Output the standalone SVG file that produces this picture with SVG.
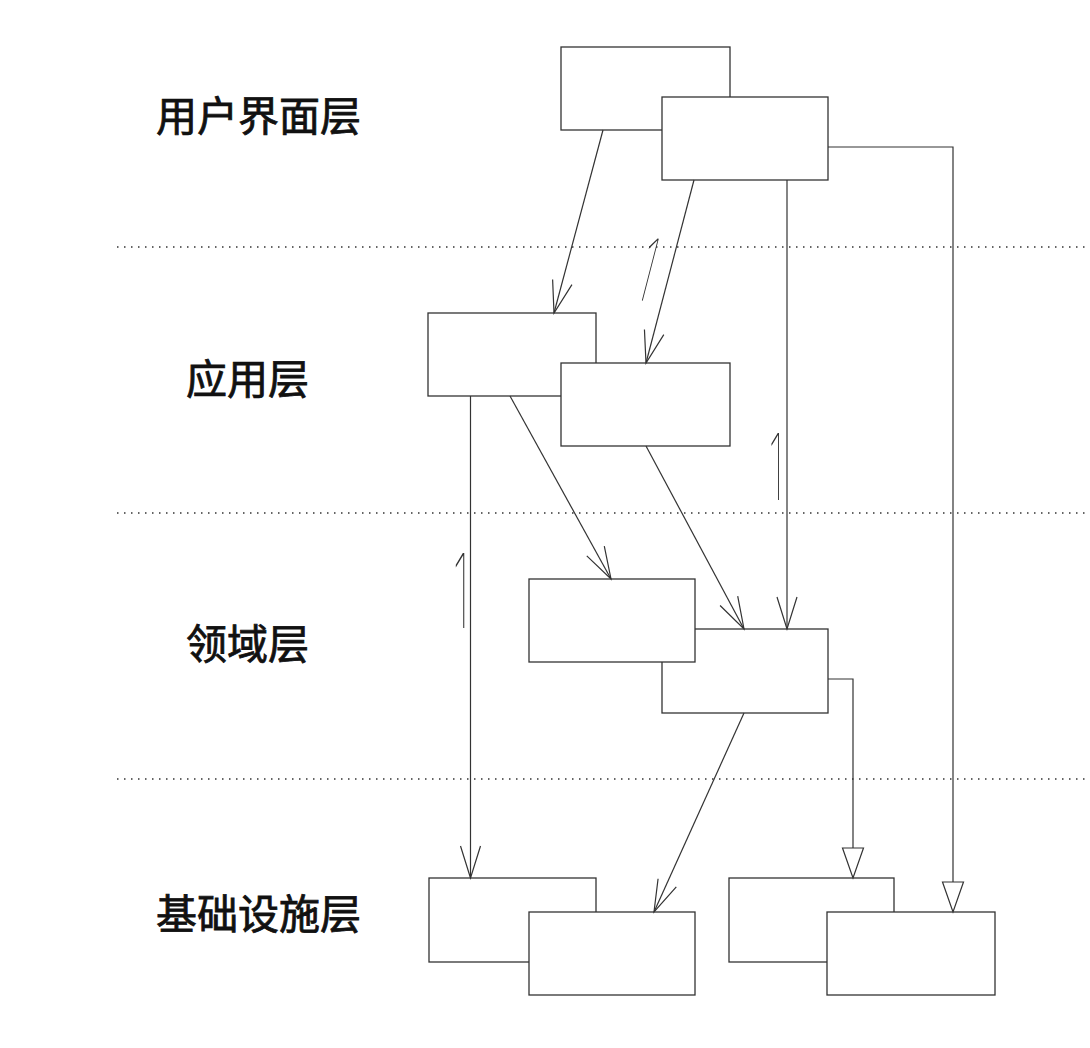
<svg xmlns="http://www.w3.org/2000/svg" width="1090" height="1048" viewBox="0 0 1090 1048">
<style>
.box{fill:#fff;stroke:#333;stroke-width:1.3}
.ln{fill:none;stroke:#333;stroke-width:1.2}
.dot{fill:none;stroke:#333;stroke-width:1.5;stroke-dasharray:1.5 5.5}
.lbl{font-family:"Noto Sans CJK SC",sans-serif;font-size:41px;font-weight:400;fill:#111;stroke:#111;stroke-width:0.8}
.one{font-family:Inter,Roboto,"Liberation Sans",sans-serif;font-weight:100;fill:#333}
</style>
<defs>
<marker id="open" markerUnits="userSpaceOnUse" markerWidth="40" markerHeight="26" viewBox="-35 -13 37 26" refX="0" refY="0" orient="auto">
<path d="M-32,-10 L0,0 L-32,10" fill="none" stroke="#333" stroke-width="1.2"/>
</marker>
<marker id="tri" markerUnits="userSpaceOnUse" markerWidth="36" markerHeight="26" viewBox="-33 -13 35 26" refX="0" refY="0" orient="auto">
<path d="M-30,-10.5 L0,0 L-30,10.5 Z" fill="#fff" stroke="#333" stroke-width="1.2"/>
</marker>
</defs>
<rect width="1090" height="1048" fill="#fff"/>
<g id="layers">
<line class="dot" x1="117" y1="247" x2="1090" y2="247"/>
<line class="dot" x1="117" y1="513" x2="1090" y2="513"/>
<line class="dot" x1="117" y1="779" x2="1090" y2="779"/>
<text class="lbl" x="156" y="131">用户界面层</text>
<text class="lbl" x="186" y="394">应用层</text>
<text class="lbl" x="186" y="659">领域层</text>
<text class="lbl" x="156" y="929">基础设施层</text>
</g>
<g id="ui-a"><rect class="box" x="561" y="47" width="169" height="83"/></g>
<g id="ui-b"><rect class="box" x="662" y="97" width="166" height="83"/></g>
<g id="app-c"><rect class="box" x="428" y="313" width="168" height="83"/></g>
<g id="app-d"><rect class="box" x="561" y="363" width="169" height="83"/></g>
<g id="dom-f"><rect class="box" x="662" y="629" width="166" height="84"/></g>
<g id="dom-e"><rect class="box" x="529" y="579" width="166" height="83"/></g>
<g id="inf-h1"><rect class="box" x="429" y="878" width="167" height="84"/></g>
<g id="inf-h2"><rect class="box" x="529" y="912" width="166" height="83"/></g>
<g id="inf-g1"><rect class="box" x="729" y="878" width="165" height="84"/></g>
<g id="inf-g2"><rect class="box" x="827" y="912" width="168" height="83"/></g>
<g id="connectors">
<line class="ln" x1="603" y1="130" x2="554" y2="313" marker-end="url(#open)"/>
<line class="ln" x1="694" y1="180" x2="646" y2="363" marker-end="url(#open)"/>
<line class="ln" x1="787" y1="180" x2="787" y2="629" marker-end="url(#open)"/>
<polyline class="ln" points="828,147 953,147 953,912" marker-end="url(#tri)"/>
<line class="ln" x1="470.5" y1="396" x2="470.5" y2="878" marker-end="url(#open)"/>
<line class="ln" x1="510" y1="396" x2="611" y2="579" marker-end="url(#open)"/>
<line class="ln" x1="646" y1="446" x2="744" y2="629" marker-end="url(#open)"/>
<line class="ln" x1="744" y1="713" x2="654" y2="912" marker-end="url(#open)"/>
<polyline class="ln" points="828,679 853,679 853,878" marker-end="url(#tri)"/>
</g>
<g id="multiplicities">
<text class="one" font-size="88" text-anchor="middle" transform="translate(640,300) rotate(14.5) scale(0.45,1)">1</text>
<text class="one" font-size="92" text-anchor="middle" transform="translate(776,500) scale(0.45,1)">1</text>
<text class="one" font-size="103" text-anchor="middle" transform="translate(461,628) scale(0.45,1)">1</text>
</g>
</svg>
